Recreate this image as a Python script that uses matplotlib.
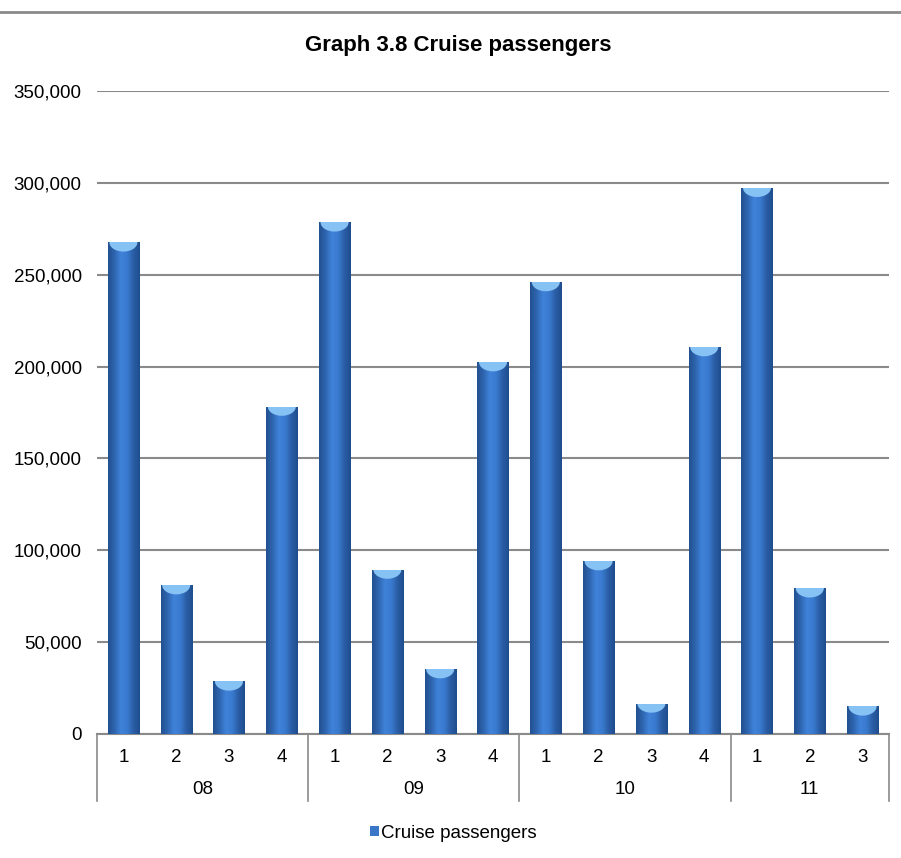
import numpy as np
import matplotlib
matplotlib.use("Agg")
import matplotlib.pyplot as plt
from matplotlib.patches import Ellipse, Rectangle
from matplotlib.lines import Line2D
from matplotlib.colors import LinearSegmentedColormap
from matplotlib.ticker import FuncFormatter

plt.rcParams['font.family'] = ['Liberation Sans', 'DejaVu Sans']

years = ["08", "09", "10", "11"]
quarters = ["1", "2", "3", "4", "1", "2", "3", "4", "1", "2", "3", "4", "1", "2", "3"]
year_of_bar = ["08"] * 4 + ["09"] * 4 + ["10"] * 4 + ["11"] * 3
passengers = [267600, 81000, 28600, 178200,
              278500, 89500, 35300, 202400,
              246000, 94100, 16600, 210600,
              297300, 79300, 15000]
series_name = "Cruise passengers"
title = "Graph 3.8 Cruise passengers"

W, H = 901, 858
fig = plt.figure(figsize=(W / 100, H / 100), dpi=100)
ax = fig.add_axes([97 / W, 1 - 734 / H, (889 - 97) / W, (734 - 91) / H])

x = np.arange(len(passengers))
bars = ax.bar(x, passengers, width=0.59, color="#3a76c8", zorder=3)

cmap = LinearSegmentedColormap.from_list(
    "cyl", ["#22508f", "#2f65b0", "#3f82d8", "#3a7bd0", "#2b5ea6", "#1f4d8e"])
grad = np.linspace(0, 1, 64).reshape(1, -1)
for b in bars:
    x0, w, h = b.get_x(), b.get_width(), b.get_height()
    im = ax.imshow(grad, cmap=cmap, aspect="auto", extent=(x0, x0 + w, 0, h),
                   zorder=3.5, interpolation="bicubic")
    im.set_clip_path(b)
    cap = Ellipse((x0 + w / 2, h), w * 0.9, 10000, facecolor="#86c2f4",
                  edgecolor="none", zorder=4)
    ax.add_patch(cap)
    cap.set_clip_path(b)

ax.set_xlim(-0.5, len(passengers) - 0.5)
ax.set_ylim(0, 350000)
ax.set_yticks(np.arange(0, 350001, 50000))
ax.yaxis.set_major_formatter(FuncFormatter(lambda v, p: f"{int(v):,}"))
ax.tick_params(axis="y", length=0, labelsize=13.5, pad=11)
ax.set_xticks([])
ax.grid(axis="y", color="#8a8a8a", linewidth=1.5, zorder=0)
for s in ["top", "right", "left"]:
    ax.spines[s].set_visible(False)
ax.spines["bottom"].set_color("#8a8a8a")
ax.spines["bottom"].set_linewidth(1.5)

trans = ax.get_xaxis_transform()
ax_h_px = 734 - 91
def ay(py):
    return -(py - 734) / ax_h_px

for i, q in enumerate(quarters):
    ax.text(i, ay(757), q, ha="center", va="center", fontsize=13.5, transform=trans)

# group boundaries and year labels
bounds = [-0.5]
for yi, yr in enumerate(years):
    idx = [i for i, yy in enumerate(year_of_bar) if yy == yr]
    lo, hi = idx[0] - 0.5, idx[-1] + 0.5
    bounds.append(hi)
    ax.text((lo + hi) / 2, ay(789), yr, ha="center", va="center", fontsize=13.5,
            transform=trans)
for bx in bounds:
    ax.add_line(Line2D([bx, bx], [0, ay(801)], transform=trans, color="#8a8a8a",
                       linewidth=1.2, clip_on=False))

fig.text(458 / W, 1 - 45 / H, title, ha="center", va="center", fontsize=16,
         fontweight="bold")

# top border line
fig.add_artist(Line2D([0, 1], [1 - 12 / H, 1 - 12 / H], transform=fig.transFigure,
                      color="#8a8a8a", linewidth=2))

handle = Rectangle((0, 0), 1, 1, facecolor="#3a76c8", edgecolor="none")
fig.legend([handle], [series_name], loc="center", bbox_to_anchor=(453 / W, 1 - 833 / H),
           frameon=False, fontsize=13.5, handlelength=0.5, handleheight=0.5,
           handletextpad=0.1)

fig.savefig("out.png", dpi=100)
